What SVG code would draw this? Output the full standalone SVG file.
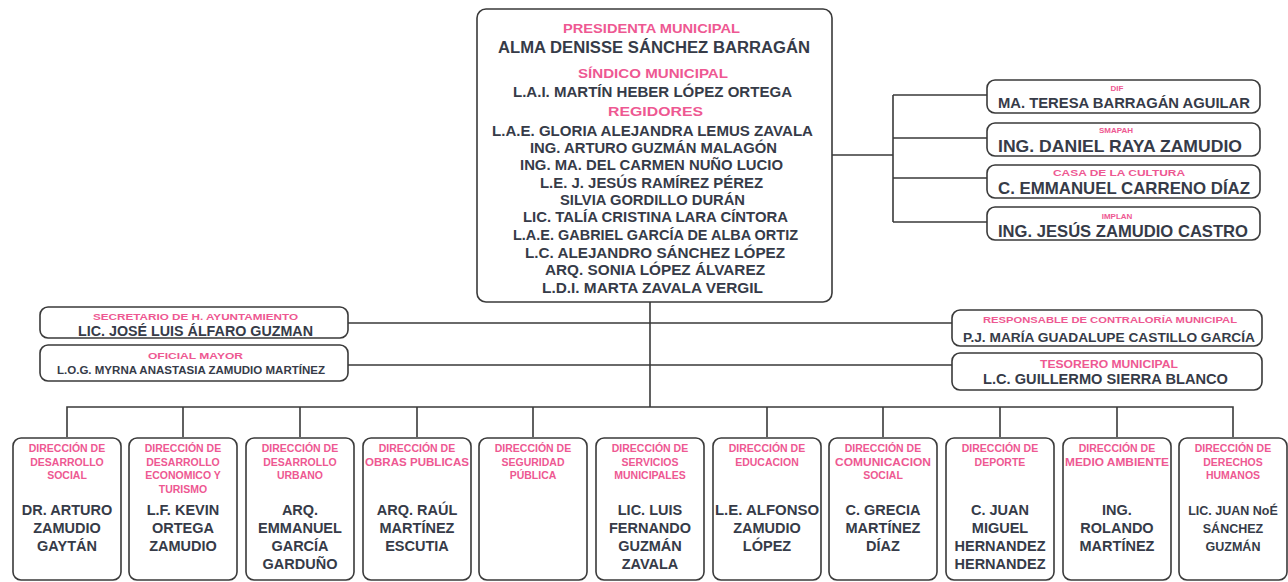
<svg xmlns="http://www.w3.org/2000/svg" width="1288" height="582" viewBox="0 0 1288 582">
<style>
.box{fill:#fff;stroke:#3a3a3a;stroke-width:1.6}
.ln{fill:none;stroke:#3a3a3a;stroke-width:1.6}
text{font-family:"Liberation Sans",Arial,sans-serif;font-weight:bold;text-anchor:middle}
.p{fill:#ee5892}
.n{fill:#363b48}
.bp{font-size:10.5px}
.bn{font-size:14.5px}
</style>
<rect width="1288" height="582" fill="#fff"/>
<g id="connectors">
<path class="ln" d="M650 302V407"/>
<path class="ln" d="M348 323H952M348 365H952"/>
<path class="ln" d="M67 437V407H1233V437"/>
<path class="ln" d="M183 407V437M300 407V437M417 407V437M533 407V437M767 407V437M883 407V437M1000 407V437M1117 407V437"/>
<path class="ln" d="M832 155H893M893 95V222M893 95H987M893 138H987M893 178H987M893 222H987"/>
</g>
<g id="top">
<rect class="box" x="477" y="9" width="355" height="293" rx="9"/>
<text class="p" x="651.5" y="33" font-size="13" textLength="177" lengthAdjust="spacingAndGlyphs">PRESIDENTA MUNICIPAL</text>
<text class="n" x="654" y="53" font-size="16" textLength="312" lengthAdjust="spacingAndGlyphs">ALMA DENISSE SÁNCHEZ BARRAGÁN</text>
<text class="p" x="653" y="78" font-size="13" textLength="150" lengthAdjust="spacingAndGlyphs">SÍNDICO MUNICIPAL</text>
<text class="n" x="652.5" y="97" font-size="14" textLength="279" lengthAdjust="spacingAndGlyphs">L.A.I. MARTÍN HEBER LÓPEZ ORTEGA</text>
<text class="p" x="655.5" y="116" font-size="13" textLength="95" lengthAdjust="spacingAndGlyphs">REGIDORES</text>
<text class="n" x="652.5" y="136" font-size="14" textLength="321" lengthAdjust="spacingAndGlyphs">L.A.E. GLORIA ALEJANDRA LEMUS ZAVALA</text>
<text class="n" x="653.5" y="153" font-size="14" textLength="247" lengthAdjust="spacingAndGlyphs">ING. ARTURO GUZMÁN MALAGÓN</text>
<text class="n" x="651.5" y="170" font-size="14" textLength="263" lengthAdjust="spacingAndGlyphs">ING. MA. DEL CARMEN NUÑO LUCIO</text>
<text class="n" x="651.5" y="188" font-size="14" textLength="223" lengthAdjust="spacingAndGlyphs">L.E. J. JESÚS RAMÍREZ PÉREZ</text>
<text class="n" x="652.5" y="205" font-size="14" textLength="185" lengthAdjust="spacingAndGlyphs">SILVIA GORDILLO DURÁN</text>
<text class="n" x="655.5" y="222" font-size="14" textLength="265" lengthAdjust="spacingAndGlyphs">LIC. TALÍA CRISTINA LARA CÍNTORA</text>
<text class="n" x="655.5" y="240" font-size="14" textLength="285" lengthAdjust="spacingAndGlyphs">L.A.E. GABRIEL GARCÍA DE ALBA ORTIZ</text>
<text class="n" x="655" y="258" font-size="14" textLength="260" lengthAdjust="spacingAndGlyphs">L.C. ALEJANDRO SÁNCHEZ LÓPEZ</text>
<text class="n" x="655" y="275" font-size="14" textLength="220" lengthAdjust="spacingAndGlyphs">ARQ. SONIA LÓPEZ ÁLVAREZ</text>
<text class="n" x="652.5" y="293" font-size="14" textLength="221" lengthAdjust="spacingAndGlyphs">L.D.I. MARTA ZAVALA VERGIL</text>
</g>
<g id="dif">
<rect class="box" x="987" y="80" width="273" height="33" rx="8"/>
<text class="p" x="1117" y="91" font-size="8">DIF</text>
<text class="n" x="1124" y="108" font-size="15" textLength="252" lengthAdjust="spacingAndGlyphs">MA. TERESA BARRAGÁN AGUILAR</text>
</g>
<g id="smapah">
<rect class="box" x="987" y="123" width="273" height="33" rx="8"/>
<text class="p" x="1116" y="133" font-size="8">SMAPAH</text>
<text class="n" x="1120" y="152" font-size="17" textLength="244" lengthAdjust="spacingAndGlyphs">ING. DANIEL RAYA ZAMUDIO</text>
</g>
<g id="cultura">
<rect class="box" x="987" y="165" width="273" height="33" rx="8"/>
<text class="p" x="1119" y="176" font-size="9" textLength="132" lengthAdjust="spacingAndGlyphs">CASA DE LA CULTURA</text>
<text class="n" x="1124" y="194" font-size="17" textLength="252" lengthAdjust="spacingAndGlyphs">C. EMMANUEL CARRENO DÍAZ</text>
</g>
<g id="implan">
<rect class="box" x="987" y="207" width="273" height="33" rx="8"/>
<text class="p" x="1117" y="219" font-size="8">IMPLAN</text>
<text class="n" x="1123" y="237" font-size="17" textLength="250" lengthAdjust="spacingAndGlyphs">ING. JESÚS ZAMUDIO CASTRO</text>
</g>
<g id="secretario">
<rect class="box" x="40" y="307" width="308" height="31" rx="8"/>
<text class="p" x="195.5" y="320" font-size="9" textLength="205" lengthAdjust="spacingAndGlyphs">SECRETARIO DE H. AYUNTAMIENTO</text>
<text class="n" x="195.5" y="336" font-size="14" textLength="235" lengthAdjust="spacingAndGlyphs">LIC. JOSÉ LUIS ÁLFARO GUZMAN</text>
</g>
<g id="oficial">
<rect class="box" x="40" y="345" width="308" height="36" rx="8"/>
<text class="p" x="195.5" y="359" font-size="9" textLength="95" lengthAdjust="spacingAndGlyphs">OFICIAL MAYOR</text>
<text class="n" x="191" y="374" font-size="10" textLength="268" lengthAdjust="spacingAndGlyphs">L.O.G. MYRNA ANASTASIA ZAMUDIO MARTÍNEZ</text>
</g>
<g id="contraloria">
<rect class="box" x="952" y="310" width="310" height="36" rx="8"/>
<text class="p" x="1110" y="323" font-size="9" textLength="254" lengthAdjust="spacingAndGlyphs">RESPONSABLE DE CONTRALORÍA MUNICIPAL</text>
<text class="n" x="1109" y="342" font-size="12" textLength="292" lengthAdjust="spacingAndGlyphs">P.J. MARÍA GUADALUPE CASTILLO GARCÍA</text>
</g>
<g id="tesorero">
<rect class="box" x="952" y="353" width="310" height="37" rx="8"/>
<text class="p" x="1109" y="368" font-size="10" textLength="138" lengthAdjust="spacingAndGlyphs">TESORERO MUNICIPAL</text>
<text class="n" x="1105.5" y="384" font-size="14" textLength="245" lengthAdjust="spacingAndGlyphs">L.C. GUILLERMO SIERRA BLANCO</text>
</g>
<g id="d1">
<rect class="box" x="13" y="438" width="108" height="142" rx="8"/>
<text class="p bp" x="67" y="452">DIRECCIÓN DE</text>
<text class="p bp" x="67" y="465.5">DESARROLLO</text>
<text class="p bp" x="67" y="479">SOCIAL</text>
<text class="n bn" x="67" y="515">DR. ARTURO</text>
<text class="n bn" x="67" y="533">ZAMUDIO</text>
<text class="n bn" x="67" y="551">GAYTÁN</text>
</g>
<g id="d2">
<rect class="box" x="129" y="438" width="108" height="142" rx="8"/>
<text class="p bp" x="183" y="452">DIRECCIÓN DE</text>
<text class="p bp" x="183" y="465.5">DESARROLLO</text>
<text class="p bp" x="183" y="479">ECONOMICO Y</text>
<text class="p bp" x="183" y="492.5">TURISMO</text>
<text class="n bn" x="183" y="515">L.F. KEVIN</text>
<text class="n bn" x="183" y="533">ORTEGA</text>
<text class="n bn" x="183" y="551">ZAMUDIO</text>
</g>
<g id="d3">
<rect class="box" x="246" y="438" width="108" height="142" rx="8"/>
<text class="p bp" x="300" y="452">DIRECCIÓN DE</text>
<text class="p bp" x="300" y="465.5">DESARROLLO</text>
<text class="p bp" x="300" y="479">URBANO</text>
<text class="n bn" x="300" y="515">ARQ.</text>
<text class="n bn" x="300" y="533">EMMANUEL</text>
<text class="n bn" x="300" y="551">GARCÍA</text>
<text class="n bn" x="300" y="569">GARDUÑO</text>
</g>
<g id="d4">
<rect class="box" x="363" y="438" width="108" height="142" rx="8"/>
<text class="p bp" x="417" y="452">DIRECCIÓN DE</text>
<text class="p bp" x="417" y="465.5" textLength="104" lengthAdjust="spacingAndGlyphs">OBRAS PUBLICAS</text>
<text class="n bn" x="417" y="515">ARQ. RAÚL</text>
<text class="n bn" x="417" y="533">MARTÍNEZ</text>
<text class="n bn" x="417" y="551">ESCUTIA</text>
</g>
<g id="d5">
<rect class="box" x="479" y="438" width="108" height="142" rx="8"/>
<text class="p bp" x="533" y="452">DIRECCIÓN DE</text>
<text class="p bp" x="533" y="465.5">SEGURIDAD</text>
<text class="p bp" x="533" y="479">PÚBLICA</text>
</g>
<g id="d6">
<rect class="box" x="596" y="438" width="108" height="142" rx="8"/>
<text class="p bp" x="650" y="452">DIRECCIÓN DE</text>
<text class="p bp" x="650" y="465.5">SERVICIOS</text>
<text class="p bp" x="650" y="479">MUNICIPALES</text>
<text class="n bn" x="650" y="515">LIC. LUIS</text>
<text class="n bn" x="650" y="533">FERNANDO</text>
<text class="n bn" x="650" y="551">GUZMÁN</text>
<text class="n bn" x="650" y="569">ZAVALA</text>
</g>
<g id="d7">
<rect class="box" x="713" y="438" width="108" height="142" rx="8"/>
<text class="p bp" x="767" y="452">DIRECCIÓN DE</text>
<text class="p bp" x="767" y="465.5">EDUCACION</text>
<text class="n bn" x="767" y="515" textLength="104" lengthAdjust="spacingAndGlyphs">L.E. ALFONSO</text>
<text class="n bn" x="767" y="533">ZAMUDIO</text>
<text class="n bn" x="767" y="551">LÓPEZ</text>
</g>
<g id="d8">
<rect class="box" x="829" y="438" width="108" height="142" rx="8"/>
<text class="p bp" x="883" y="452">DIRECCIÓN DE</text>
<text class="p bp" x="883" y="465.5" textLength="96" lengthAdjust="spacingAndGlyphs">COMUNICACION</text>
<text class="p bp" x="883" y="479">SOCIAL</text>
<text class="n bn" x="883" y="515">C. GRECIA</text>
<text class="n bn" x="883" y="533">MARTÍNEZ</text>
<text class="n bn" x="883" y="551">DÍAZ</text>
</g>
<g id="d9">
<rect class="box" x="946" y="438" width="108" height="142" rx="8"/>
<text class="p bp" x="1000" y="452">DIRECCIÓN DE</text>
<text class="p bp" x="1000" y="465.5">DEPORTE</text>
<text class="n bn" x="1000" y="515">C. JUAN</text>
<text class="n bn" x="1000" y="533">MIGUEL</text>
<text class="n bn" x="1000" y="551">HERNANDEZ</text>
<text class="n bn" x="1000" y="569">HERNANDEZ</text>
</g>
<g id="d10">
<rect class="box" x="1063" y="438" width="108" height="142" rx="8"/>
<text class="p bp" x="1117" y="452">DIRECCIÓN DE</text>
<text class="p bp" x="1117" y="465.5" textLength="104" lengthAdjust="spacingAndGlyphs">MEDIO AMBIENTE</text>
<text class="n bn" x="1117" y="515">ING.</text>
<text class="n bn" x="1117" y="533">ROLANDO</text>
<text class="n bn" x="1117" y="551">MARTÍNEZ</text>
</g>
<g id="d11">
<rect class="box" x="1179" y="438" width="108" height="142" rx="8"/>
<text class="p bp" x="1233" y="452">DIRECCIÓN DE</text>
<text class="p bp" x="1233" y="465.5">DERECHOS</text>
<text class="p bp" x="1233" y="479">HUMANOS</text>
<text class="n" x="1233" y="515" font-size="12.5">LIC. JUAN NoÉ</text>
<text class="n" x="1233" y="533" font-size="12.5">SÁNCHEZ</text>
<text class="n" x="1233" y="551" font-size="12.5">GUZMÁN</text>
</g>
</svg>
